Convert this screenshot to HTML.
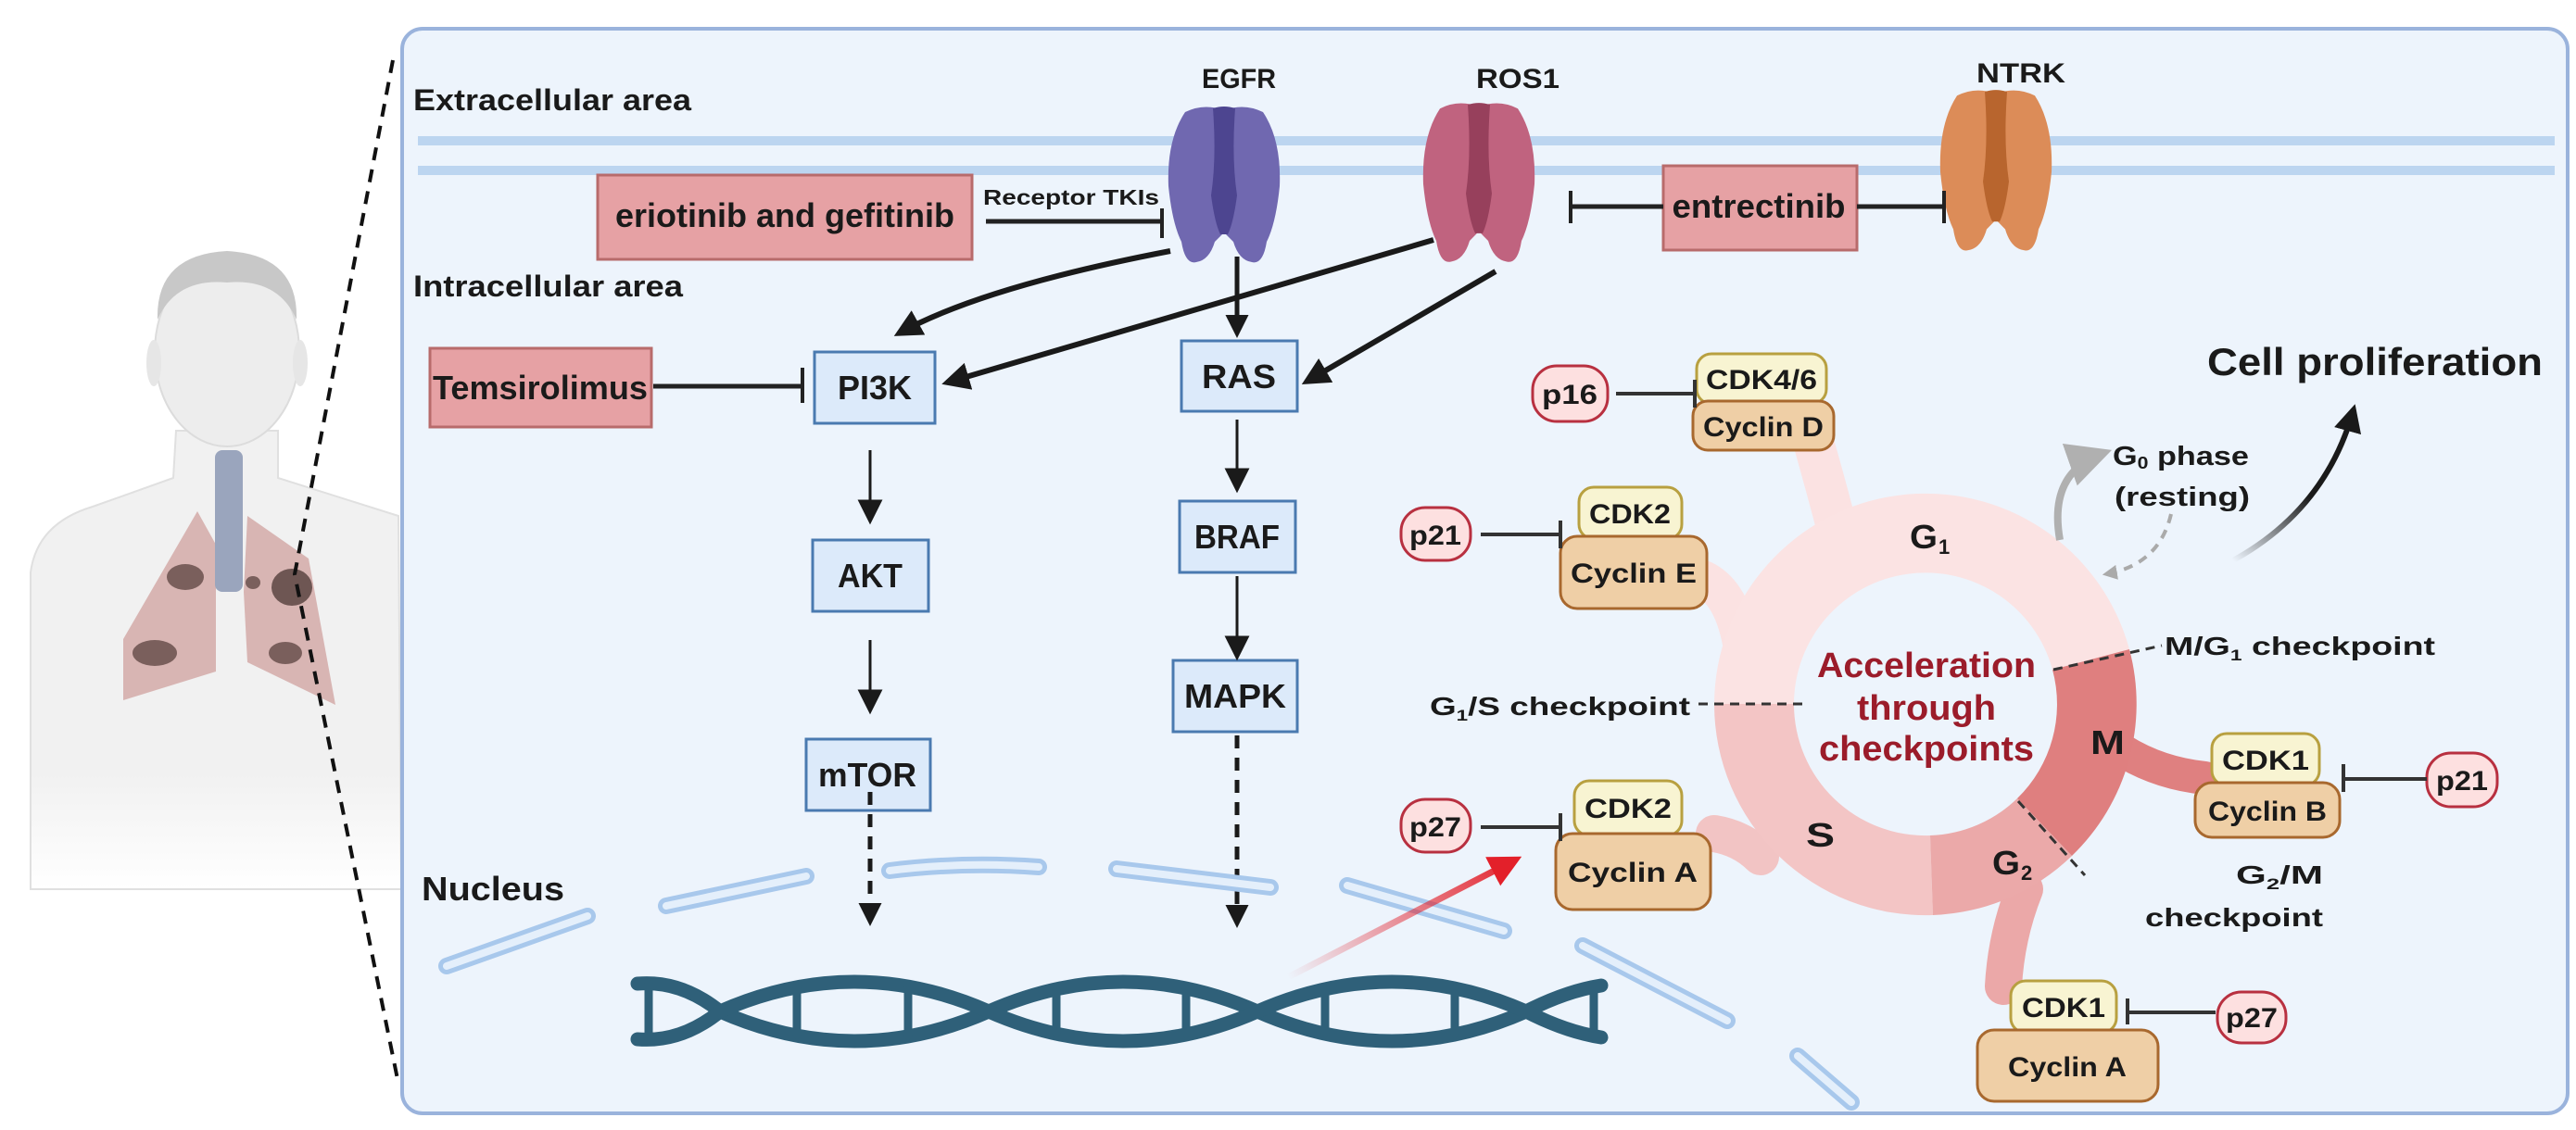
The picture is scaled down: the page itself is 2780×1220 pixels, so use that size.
<!DOCTYPE html>
<html><head><meta charset="utf-8"><style>
html,body{margin:0;padding:0;background:#fff;}
svg{display:block;}
text{font-family:"Liberation Sans",sans-serif;font-weight:bold;fill:#1a1a1a;}
</style></head><body>
<svg width="2780" height="1220" viewBox="0 0 2780 1220" xmlns="http://www.w3.org/2000/svg">
<defs>
<marker id="ah" viewBox="0 0 10 10" refX="8" refY="5" markerWidth="5" markerHeight="5" orient="auto-start-reverse"><path d="M0,0 L10,5 L0,10 Z" fill="#1a1a1a"/></marker>
<marker id="ahs" viewBox="0 0 10 10" refX="8" refY="5" markerWidth="9" markerHeight="9" orient="auto"><path d="M0,0 L10,5 L0,10 Z" fill="#1a1a1a"/></marker>
<marker id="ahg" viewBox="0 0 10 10" refX="8" refY="5" markerWidth="4" markerHeight="4" orient="auto"><path d="M0,0 L10,5 L0,10 Z" fill="#aaa"/></marker>
<marker id="ahg2" viewBox="0 0 10 10" refX="8" refY="5" markerWidth="6" markerHeight="6" orient="auto"><path d="M0,0 L10,5 L0,10 Z" fill="#b0b0b0"/></marker>
<marker id="ahr" viewBox="0 0 10 10" refX="8" refY="5" markerWidth="5" markerHeight="5" orient="auto"><path d="M0,0 L10,5 L0,10 Z" fill="#e3202a"/></marker>
<linearGradient id="rg" x1="1390" y1="1055" x2="1640" y2="925" gradientUnits="userSpaceOnUse"><stop offset="0" stop-color="#e3202a" stop-opacity="0"/><stop offset="1" stop-color="#e3202a"/></linearGradient>
<linearGradient id="bg" x1="2410" y1="605" x2="2540" y2="440" gradientUnits="userSpaceOnUse"><stop offset="0" stop-color="#1a1a1a" stop-opacity="0"/><stop offset="0.5" stop-color="#1a1a1a"/></linearGradient>
<linearGradient id="bodyfade" x1="0" y1="0" x2="0" y2="1"><stop offset="0.75" stop-color="#f1f1f1"/><stop offset="1" stop-color="#fff"/></linearGradient>
</defs>

<!-- human figure -->
<path d="M33,618 Q40,565 100,547 L187,516 L190,465 L300,465 L300,516 L430,557 L433,960 L33,960 Z" fill="url(#bodyfade)" stroke="#e0e0e0" stroke-width="2"/>
<ellipse cx="245" cy="380" rx="78" ry="102" fill="#ededed" stroke="#dcdcdc" stroke-width="2"/>
<path d="M170,345 Q168,275 245,271 Q322,275 320,345 Q300,300 245,305 Q190,300 170,345 Z" fill="#c8c8c8"/>
<ellipse cx="166" cy="392" rx="8" ry="25" fill="#e6e6e6"/>
<ellipse cx="324" cy="392" rx="8" ry="25" fill="#e6e6e6"/>
<path d="M213,552 L133,690 L133,756 L233,725 L233,588 Z" fill="#d4aaa8" opacity="0.85"/>
<path d="M267,557 L333,603 L362,761 L267,715 L263,639 Z" fill="#d4aaa8" opacity="0.85"/>
<rect x="232" y="486" width="30" height="153" rx="8" fill="#9aa5bd"/>
<ellipse cx="200" cy="623" rx="20" ry="14" fill="#7a5f5c"/>
<ellipse cx="167" cy="705" rx="24" ry="14" fill="#7a5f5c"/>
<ellipse cx="273" cy="629" rx="8" ry="7" fill="#7a5f5c"/>
<ellipse cx="315" cy="634" rx="22" ry="20" fill="#6e5653"/>
<ellipse cx="308" cy="705" rx="18" ry="12" fill="#7a5f5c"/>
<!-- zoom dashed lines -->
<path d="M424,65 L318,620 L429,1165" fill="none" stroke="#111" stroke-width="4" stroke-dasharray="14,10"/>

<!-- panel -->
<rect x="434" y="31" width="2337" height="1171" rx="22" fill="#edf4fc" stroke="#9ab3dc" stroke-width="4"/>

<!-- membrane -->
<rect x="451" y="147" width="2306" height="10" fill="#bcd5f0"/>
<rect x="451" y="179" width="2306" height="10" fill="#bcd5f0"/>

<text x="446" y="119" font-size="32" textLength="300" lengthAdjust="spacingAndGlyphs">Extracellular area</text>
<text x="446" y="320" font-size="32" textLength="291" lengthAdjust="spacingAndGlyphs">Intracellular area</text>

<!-- receptors -->
<g transform="translate(1259,111)">
<path d="M20,10 Q40,0 62,8 Q84,0 104,10 Q124,40 122,90 Q118,130 108,150 Q104,175 92,172 Q78,170 72,150 L62,140 L52,150 Q46,170 32,172 Q20,175 16,150 Q6,130 2,90 Q0,40 20,10 Z" fill="#7068b0"/>
<path d="M50,6 Q62,2 74,6 Q70,60 76,100 Q72,130 66,142 L58,142 Q52,130 48,100 Q54,60 50,6 Z" fill="#4d4590"/>
</g>
<g transform="translate(1534,107) scale(1.37,1.02)">
<path d="M20,10 Q40,0 62,8 Q84,0 104,10 Q124,40 122,90 Q118,130 108,150 Q104,175 92,172 Q78,170 72,150 L62,140 L52,150 Q46,170 32,172 Q20,175 16,150 Q6,130 2,90 Q0,40 20,10 Z" fill="#c0637f" transform="scale(0.73,1)"/>
<path d="M50,6 Q62,2 74,6 Q70,60 76,100 Q72,130 66,142 L58,142 Q52,130 48,100 Q54,60 50,6 Z" fill="#97405c" transform="scale(0.73,1)"/>
</g>
<g transform="translate(2092,93) scale(1.37,1.03)">
<path d="M20,10 Q40,0 62,8 Q84,0 104,10 Q124,40 122,90 Q118,130 108,150 Q104,175 92,172 Q78,170 72,150 L62,140 L52,150 Q46,170 32,172 Q20,175 16,150 Q6,130 2,90 Q0,40 20,10 Z" fill="#dc8c58" transform="scale(0.73,1)"/>
<path d="M50,6 Q62,2 74,6 Q70,60 76,100 Q72,130 66,142 L58,142 Q52,130 48,100 Q54,60 50,6 Z" fill="#b8652e" transform="scale(0.73,1)"/>
</g>
<text x="1337" y="95" font-size="30" text-anchor="middle" textLength="80" lengthAdjust="spacingAndGlyphs">EGFR</text>
<text x="1638" y="95" font-size="30" text-anchor="middle" textLength="90" lengthAdjust="spacingAndGlyphs">ROS1</text>
<text x="2181" y="89" font-size="30" text-anchor="middle" textLength="96" lengthAdjust="spacingAndGlyphs">NTRK</text>

<!-- drug boxes -->
<rect x="645" y="189" width="404" height="91" fill="#e6a1a4" stroke="#b86b6b" stroke-width="3"/>
<text x="847" y="245" font-size="36" text-anchor="middle" textLength="366" lengthAdjust="spacingAndGlyphs">eriotinib and gefitinib</text>
<text x="1156" y="221" font-size="23" text-anchor="middle" textLength="190" lengthAdjust="spacingAndGlyphs">Receptor TKIs</text>
<line x1="1064" y1="239" x2="1254" y2="239" stroke="#222" stroke-width="5"/>
<line x1="1254" y1="225" x2="1254" y2="257" stroke="#222" stroke-width="4"/>

<rect x="1795" y="179" width="209" height="91" fill="#e6a1a4" stroke="#b86b6b" stroke-width="3"/>
<text x="1898" y="235" font-size="36" text-anchor="middle" textLength="187" lengthAdjust="spacingAndGlyphs">entrectinib</text>
<line x1="1695" y1="223" x2="1795" y2="223" stroke="#222" stroke-width="5"/>
<line x1="1695" y1="206" x2="1695" y2="241" stroke="#222" stroke-width="4"/>
<line x1="2004" y1="223" x2="2098" y2="223" stroke="#222" stroke-width="5"/>
<line x1="2098" y1="206" x2="2098" y2="241" stroke="#222" stroke-width="4"/>

<rect x="464" y="376" width="239" height="85" fill="#e6a1a4" stroke="#b86b6b" stroke-width="3"/>
<text x="583" y="431" font-size="36" text-anchor="middle" textLength="232" lengthAdjust="spacingAndGlyphs">Temsirolimus</text>
<line x1="705" y1="417" x2="866" y2="417" stroke="#222" stroke-width="5"/>
<line x1="866" y1="397" x2="866" y2="435" stroke="#222" stroke-width="4"/>

<!-- pathway boxes -->
<g fill="#dceafa" stroke="#4a7ab0" stroke-width="3">
<rect x="879" y="380" width="130" height="77"/>
<rect x="1275" y="368" width="125" height="76"/>
<rect x="877" y="583" width="125" height="77"/>
<rect x="1273" y="541" width="125" height="77"/>
<rect x="870" y="798" width="134" height="77"/>
<rect x="1266" y="713" width="134" height="77"/>
</g>
<g font-size="36" text-anchor="middle">
<text x="944" y="431" textLength="80" lengthAdjust="spacingAndGlyphs">PI3K</text>
<text x="1337" y="419" textLength="80" lengthAdjust="spacingAndGlyphs">RAS</text>
<text x="939" y="634" textLength="70" lengthAdjust="spacingAndGlyphs">AKT</text>
<text x="1335" y="592" textLength="92" lengthAdjust="spacingAndGlyphs">BRAF</text>
<text x="936" y="849" textLength="106" lengthAdjust="spacingAndGlyphs">mTOR</text>
<text x="1333" y="764" textLength="110" lengthAdjust="spacingAndGlyphs">MAPK</text>
</g>

<!-- arrows -->
<g fill="none" stroke="#1a1a1a">
<path d="M1263,271 Q1060,310 970,360" stroke-width="6" marker-end="url(#ah)"/>
<line x1="1335" y1="277" x2="1335" y2="360" stroke-width="5" marker-end="url(#ah)"/>
<line x1="1547" y1="259" x2="1022" y2="413" stroke-width="6" marker-end="url(#ah)"/>
<line x1="1614" y1="293" x2="1410" y2="412" stroke-width="6" marker-end="url(#ah)"/>
<line x1="939" y1="486" x2="939" y2="561" stroke-width="3" marker-end="url(#ahs)"/>
<line x1="1335" y1="453" x2="1335" y2="527" stroke-width="3" marker-end="url(#ahs)"/>
<line x1="939" y1="691" x2="939" y2="766" stroke-width="3" marker-end="url(#ahs)"/>
<line x1="1335" y1="622" x2="1335" y2="708" stroke-width="3" marker-end="url(#ahs)"/>
<line x1="939" y1="855" x2="939" y2="995" stroke-width="5" stroke-dasharray="14,10" marker-end="url(#ah)"/>
<line x1="1335" y1="794" x2="1335" y2="997" stroke-width="5" stroke-dasharray="14,10" marker-end="url(#ah)"/>
</g>

<text x="455" y="972" font-size="36" textLength="154" lengthAdjust="spacingAndGlyphs">Nucleus</text>

<!-- nuclear envelope -->
<g fill="none" stroke-linecap="round">
<g stroke="#a8c8ec" stroke-width="18">
<line x1="482" y1="1043" x2="634" y2="989"/><line x1="719" y1="978" x2="870" y2="946"/>
<path d="M960,940 Q1040,930 1121,936"/><line x1="1205" y1="938" x2="1371" y2="958"/>
<line x1="1454" y1="956" x2="1623" y2="1005"/><line x1="1708" y1="1021" x2="1864" y2="1102"/>
<line x1="1940" y1="1140" x2="1998" y2="1190"/>
</g>
<g stroke="#e4effb" stroke-width="8">
<line x1="482" y1="1043" x2="634" y2="989"/><line x1="719" y1="978" x2="870" y2="946"/>
<path d="M960,940 Q1040,930 1121,936"/><line x1="1205" y1="938" x2="1371" y2="958"/>
<line x1="1454" y1="956" x2="1623" y2="1005"/><line x1="1708" y1="1021" x2="1864" y2="1102"/>
<line x1="1940" y1="1140" x2="1998" y2="1190"/>
</g>
</g>

<!-- DNA -->
<g fill="none" stroke="#2f6079" stroke-linecap="round">
<path d="M688,1062 Q735,1058 777,1092 Q922,1156 1067,1092 Q1212,1028 1357,1092 Q1502,1156 1647,1092 Q1690,1070 1728,1064" stroke-width="15"/>
<path d="M688,1122 Q735,1126 777,1092 Q922,1028 1067,1092 Q1212,1156 1357,1092 Q1502,1028 1647,1092 Q1690,1114 1728,1120" stroke-width="15"/>
<g stroke-width="9">
<line x1="700" y1="1062" x2="700" y2="1122"/><line x1="860" y1="1067" x2="860" y2="1117"/>
<line x1="980" y1="1066" x2="980" y2="1118"/><line x1="1140" y1="1069" x2="1140" y2="1115"/>
<line x1="1280" y1="1068" x2="1280" y2="1116"/><line x1="1430" y1="1069" x2="1430" y2="1115"/>
<line x1="1570" y1="1068" x2="1570" y2="1116"/><line x1="1720" y1="1064" x2="1720" y2="1120"/>
</g>
</g>
<!-- red arrow -->
<line x1="1390" y1="1055" x2="1636" y2="928" stroke="url(#rg)" stroke-width="7" marker-end="url(#ahr)"/>

<!-- cell cycle stems -->
<g fill="none" stroke-linecap="round">
<path d="M1955,470 Q1975,540 1990,600" stroke="#fbe2e2" stroke-width="44"/>
<path d="M1838,625 Q1870,640 1880,700" stroke="#fbe2e2" stroke-width="40"/>
<path d="M1850,900 Q1880,905 1900,925" stroke="#f2c4c4" stroke-width="40"/>
<path d="M2290,810 Q2330,835 2380,840" stroke="#df8080" stroke-width="36"/>
<path d="M2185,960 Q2165,1010 2162,1065" stroke="#eba8a8" stroke-width="40"/>
</g>
<!-- ring -->
<path d="M1850,760 A228,228 0 0 1 2298,701 L2215,723 A142,142 0 0 0 1936,760 Z" fill="#fbe3e3"/>
<path d="M2086,988 A228,228 0 0 1 1850,760 L1936,760 A142,142 0 0 0 2083,902 Z" fill="#f3c5c5"/>
<path d="M2236,924 A228,228 0 0 1 2086,988 L2083,902 A142,142 0 0 0 2177,862 Z" fill="#eba9a9"/>
<path d="M2298,701 A228,228 0 0 1 2236,924 L2177,862 A142,142 0 0 0 2215,723 Z" fill="#df7f7f"/>

<text x="2079" y="731" font-size="38" text-anchor="middle" fill="#9b1c2a" style="fill:#9b1c2a" textLength="236" lengthAdjust="spacingAndGlyphs">Acceleration</text>
<text x="2079" y="777" font-size="38" text-anchor="middle" style="fill:#9b1c2a" textLength="150" lengthAdjust="spacingAndGlyphs">through</text>
<text x="2079" y="821" font-size="38" text-anchor="middle" style="fill:#9b1c2a" textLength="232" lengthAdjust="spacingAndGlyphs">checkpoints</text>

<g font-size="36">
<text x="2061" y="592" textLength="30" lengthAdjust="spacingAndGlyphs">G</text><text x="2092" y="598" font-size="22">1</text>
<text x="1949" y="914" textLength="31" lengthAdjust="spacingAndGlyphs">S</text>
<text x="2150" y="944" textLength="30" lengthAdjust="spacingAndGlyphs">G</text><text x="2181" y="950" font-size="22">2</text>
<text x="2256" y="814" textLength="37" lengthAdjust="spacingAndGlyphs">M</text>
</g>

<!-- checkpoints -->
<g stroke="#333" stroke-width="3" stroke-dasharray="10,7" fill="none">
<line x1="1833" y1="760" x2="1945" y2="760"/>
<line x1="2216" y1="723" x2="2333" y2="697"/>
<line x1="2178" y1="865" x2="2250" y2="945"/>
</g>
<g font-size="28" font-weight="normal">
<text x="1543" y="772" textLength="281" lengthAdjust="spacingAndGlyphs">G<tspan font-size="17" dy="6">1</tspan><tspan dy="-6">/S checkpoint</tspan></text>
<text x="2336" y="707" textLength="292" lengthAdjust="spacingAndGlyphs">M/G<tspan font-size="17" dy="6">1</tspan><tspan dy="-6"> checkpoint</tspan></text>
<text x="2413" y="954" textLength="94" lengthAdjust="spacingAndGlyphs">G<tspan font-size="17" dy="6">2</tspan><tspan dy="-6">/M</tspan></text>
<text x="2315" y="1000" textLength="192" lengthAdjust="spacingAndGlyphs">checkpoint</text>
</g>

<!-- G0 & proliferation -->
<path d="M2223,583 Q2210,510 2270,489" fill="none" stroke="#b0b0b0" stroke-width="8" marker-end="url(#ahg2)"/>
<path d="M2343,555 Q2330,610 2272,620" fill="none" stroke="#aaa" stroke-width="4" stroke-dasharray="10,8" marker-end="url(#ahg)"/>
<path d="M2410,605 Q2510,550 2540,442" fill="none" stroke="url(#bg)" stroke-width="6" marker-end="url(#ah)"/>
<text x="2280" y="502" font-size="29" font-weight="normal" textLength="147" lengthAdjust="spacingAndGlyphs">G<tspan font-size="18" dy="4">0</tspan><tspan dy="-4"> phase</tspan></text>
<text x="2282" y="546" font-size="29" font-weight="normal" textLength="146" lengthAdjust="spacingAndGlyphs">(resting)</text>
<text x="2382" y="405" font-size="42" textLength="362" lengthAdjust="spacingAndGlyphs">Cell proliferation</text>

<!-- complexes -->
<g stroke-width="3">
<rect x="1831" y="382" width="140" height="54" rx="16" fill="#f8f4d2" stroke="#b8a040"/>
<rect x="1827" y="433" width="152" height="53" rx="16" fill="#efcfa6" stroke="#a8682e"/>
<rect x="1704" y="526" width="111" height="56" rx="16" fill="#f8f4d2" stroke="#b8a040"/>
<rect x="1684" y="579" width="158" height="78" rx="18" fill="#efcfa6" stroke="#a8682e"/>
<rect x="1699" y="843" width="116" height="59" rx="16" fill="#f8f4d2" stroke="#b8a040"/>
<rect x="1679" y="900" width="167" height="82" rx="18" fill="#efcfa6" stroke="#a8682e"/>
<rect x="2387" y="792" width="116" height="56" rx="16" fill="#f8f4d2" stroke="#b8a040"/>
<rect x="2369" y="845" width="156" height="59" rx="18" fill="#efcfa6" stroke="#a8682e"/>
<rect x="2170" y="1059" width="114" height="56" rx="16" fill="#f8f4d2" stroke="#b8a040"/>
<rect x="2134" y="1112" width="195" height="77" rx="18" fill="#efcfa6" stroke="#a8682e"/>
<rect x="1654" y="395" width="81" height="60" rx="26" fill="#fde0e0" stroke="#b83040"/>
<rect x="1512" y="548" width="75" height="57" rx="26" fill="#fde0e0" stroke="#b83040"/>
<rect x="1512" y="863" width="75" height="57" rx="26" fill="#fde0e0" stroke="#b83040"/>
<rect x="2619" y="813" width="76" height="58" rx="26" fill="#fde0e0" stroke="#b83040"/>
<rect x="2393" y="1071" width="74" height="55" rx="26" fill="#fde0e0" stroke="#b83040"/>
</g>
<g stroke="#333" stroke-width="4">
<line x1="1744" y1="425" x2="1829" y2="425"/><line x1="1829" y1="410" x2="1829" y2="440"/>
<line x1="1598" y1="577" x2="1684" y2="577"/><line x1="1684" y1="562" x2="1684" y2="592"/>
<line x1="1598" y1="893" x2="1684" y2="893"/><line x1="1684" y1="878" x2="1684" y2="908"/>
<line x1="2529" y1="841" x2="2619" y2="841"/><line x1="2529" y1="825" x2="2529" y2="855"/>
<line x1="2296" y1="1093" x2="2391" y2="1093"/><line x1="2296" y1="1078" x2="2296" y2="1106"/>
</g>
<g font-size="30" text-anchor="middle">
<text x="1901" y="420" textLength="120" lengthAdjust="spacingAndGlyphs">CDK4/6</text>
<text x="1903" y="471" textLength="130" lengthAdjust="spacingAndGlyphs">Cyclin D</text>
<text x="1759" y="565" textLength="88" lengthAdjust="spacingAndGlyphs">CDK2</text>
<text x="1763" y="629" textLength="136" lengthAdjust="spacingAndGlyphs">Cyclin E</text>
<text x="1757" y="883" textLength="94" lengthAdjust="spacingAndGlyphs">CDK2</text>
<text x="1762" y="952" textLength="140" lengthAdjust="spacingAndGlyphs">Cyclin A</text>
<text x="2445" y="831" textLength="94" lengthAdjust="spacingAndGlyphs">CDK1</text>
<text x="2447" y="886" textLength="128" lengthAdjust="spacingAndGlyphs">Cyclin B</text>
<text x="2227" y="1098" textLength="90" lengthAdjust="spacingAndGlyphs">CDK1</text>
<text x="2231" y="1162" textLength="128" lengthAdjust="spacingAndGlyphs">Cyclin A</text>
<text x="1694" y="436" textLength="60" lengthAdjust="spacingAndGlyphs">p16</text>
<text x="1549" y="588" textLength="56" lengthAdjust="spacingAndGlyphs">p21</text>
<text x="1549" y="903" textLength="56" lengthAdjust="spacingAndGlyphs">p27</text>
<text x="2657" y="853" textLength="56" lengthAdjust="spacingAndGlyphs">p21</text>
<text x="2430" y="1109" textLength="56" lengthAdjust="spacingAndGlyphs">p27</text>
</g>
</svg>
</body></html>
